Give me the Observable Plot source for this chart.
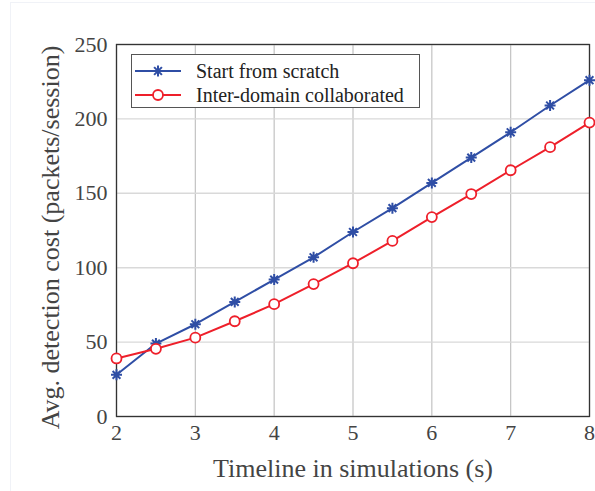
<!DOCTYPE html>
<html>
<head>
<meta charset="utf-8">
<script src="https://cdn.jsdelivr.net/npm/d3@7"></script>
<script src="https://cdn.jsdelivr.net/npm/@observablehq/plot@0.6"></script>
<style>
  html, body { margin: 0; padding: 0; background: #fff; }
  #wrap { position: relative; width: 595px; height: 491px; overflow: hidden; }
  #edge { position: absolute; left: 10px; top: 2px; right: -2px; bottom: -2px; border-left: 1px solid #f0f2f7; border-top: 1px solid #f0f2f7; pointer-events: none; }
  #legend { position: absolute; left: 131px; top: 54px; width: 287px; height: 52px; border: 1px solid #555; background: #fff;
            font-family: "Liberation Serif", "Times New Roman", serif; font-size: 20px; color: #222; }
  .row { position: absolute; left: 3px; height: 24px; display: flex; align-items: center; white-space: nowrap; }
  .row span { margin-left: 15px; }
</style>
</head>
<body>
<div id="wrap"><div id="edge"></div></div>
<script>
// Timeline values (s) and average detection cost for each strategy
const timeline = [2, 2.5, 3, 3.5, 4, 4.5, 5, 5.5, 6, 6.5, 7, 7.5, 8];
const scratchCost = [28, 49, 62, 77, 92, 107, 124, 140, 157, 174, 191, 209, 226];
const collabCost = [39, 45.5, 53, 64, 75.5, 89, 103, 118, 134, 149.5, 165.5, 181, 197.5];
const seriesNames = ["Start from scratch", "Inter-domain collaborated"];
const xTicks = [2, 3, 4, 5, 6, 7, 8];
const yTicks = [0, 50, 100, 150, 200, 250];

const blue = "#2f4ea5";
const red = "#ee1f2a";

// 8-armed asterisk marker
const asterisk = {
  draw(context, size) {
    const r = Math.sqrt(size / Math.PI);
    for (let k = 0; k < 4; ++k) {
      const a = k * Math.PI / 4;
      const dx = r * Math.cos(a), dy = r * Math.sin(a);
      context.moveTo(-dx, -dy);
      context.lineTo(dx, dy);
    }
  }
};

const scratch = timeline.map((t, i) => ({t, v: scratchCost[i]}));
const collab = timeline.map((t, i) => ({t, v: collabCost[i]}));

const serif = "'Liberation Serif', 'Times New Roman', serif";

const chart = Plot.plot({
  width: 595,
  height: 491,
  marginLeft: 116,
  marginRight: 6,
  marginTop: 44,
  marginBottom: 75,
  x: {domain: [2, 8]},
  y: {domain: [0, 250]},
  style: {fontFamily: serif, fontSize: "22px", color: "#444", background: "transparent"},
  marks: [
    Plot.gridX(xTicks, {stroke: "#c2c2c2", strokeOpacity: 1, strokeWidth: 1.2}),
    Plot.gridY(yTicks, {stroke: "#d9d9d9", strokeOpacity: 1, strokeWidth: 1.4}),
    Plot.frame({stroke: "#333", strokeWidth: 1.3}),
    Plot.axisX(xTicks, {tickSize: 0, tickPadding: 8, label: null, fill: "#444", fontSize: 22}),
    Plot.axisY(yTicks, {tickSize: 0, tickPadding: 9, label: null, fill: "#444", fontSize: 22}),
    Plot.text(["Timeline in simulations (s)"], {frameAnchor: "bottom", dy: 60, text: d => d, fontSize: 26, fill: "#444"}),
    Plot.text(["Avg. detection cost (packets/session)"], {frameAnchor: "left", textAnchor: "middle", rotate: -90, dx: -66, dy: 7, text: d => d, fontSize: 26, fill: "#444"}),
    Plot.line(scratch, {x: "t", y: "v", stroke: blue, strokeWidth: 2}),
    Plot.line(collab, {x: "t", y: "v", stroke: red, strokeWidth: 2}),
    Plot.dot(scratch, {x: "t", y: "v", symbol: asterisk, r: 5.5, stroke: blue, strokeWidth: 2}),
    Plot.dot(collab, {x: "t", y: "v", symbol: "circle", r: 5, stroke: red, fill: "white", strokeWidth: 1.8})
  ]
});

const wrap = document.getElementById("wrap");
wrap.appendChild(chart);
chart.style.position = "absolute";
chart.style.left = "0";
chart.style.top = "0";

// Legend box inside the axes
const legend = document.createElement("div");
legend.id = "legend";
const swatches = [
  `<svg width="46" height="14"><line x1="0" y1="7" x2="46" y2="7" stroke="${blue}" stroke-width="2"/>` +
  `<g stroke="${blue}" stroke-width="2"><line x1="17.5" y1="7" x2="28.5" y2="7"/><line x1="23" y1="1.5" x2="23" y2="12.5"/>` +
  `<line x1="19.1" y1="3.1" x2="26.9" y2="10.9"/><line x1="26.9" y1="3.1" x2="19.1" y2="10.9"/></g></svg>`,
  `<svg width="46" height="14"><line x1="0" y1="7" x2="46" y2="7" stroke="${red}" stroke-width="2"/>` +
  `<circle cx="23" cy="7" r="5" fill="white" stroke="${red}" stroke-width="1.8"/></svg>`
];
seriesNames.forEach((name, i) => {
  const row = document.createElement("div");
  row.className = "row";
  row.style.top = (4 + i * 24) + "px";
  row.innerHTML = swatches[i] + `<span>${name}</span>`;
  legend.appendChild(row);
});
wrap.appendChild(legend);
</script>
</body>
</html>
